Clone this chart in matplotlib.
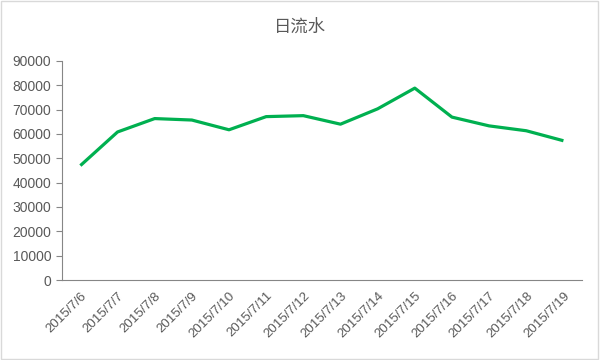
import matplotlib.pyplot as plt
from matplotlib.patches import Rectangle

# 数据
dates = ["2015/7/6", "2015/7/7", "2015/7/8", "2015/7/9", "2015/7/10",
         "2015/7/11", "2015/7/12", "2015/7/13", "2015/7/14", "2015/7/15",
         "2015/7/16", "2015/7/17", "2015/7/18", "2015/7/19"]
revenue = [47000, 60800, 66300, 65700, 61700, 67100, 67500,
           64000, 70300, 78800, 66900, 63300, 61300, 57200]
y_ticks = list(range(0, 90001, 10000))

plt.rcParams['font.family'] = ['Liberation Sans', 'Noto Sans CJK SC', 'DejaVu Sans']

fig = plt.figure(figsize=(6, 3.6), dpi=100)
ax = fig.add_axes([0.103, 0.222, 0.867, 0.609])

x = list(range(len(dates)))
ax.plot(x, revenue, color='#00B050', linewidth=2.3, solid_capstyle='butt')

ax.set_xlim(-0.5, len(dates) - 0.5)
ax.set_ylim(0, 90000)
ax.set_yticks(y_ticks)
ax.set_xticks(x)
ax.set_xticklabels(dates, rotation=45, ha='right', rotation_mode='anchor')

for side in ['top', 'right']:
    ax.spines[side].set_visible(False)
ax.spines['left'].set_color('#868686')
ax.spines['bottom'].set_color('#868686')
ax.tick_params(axis='y', colors='#868686', labelcolor='#595959', labelsize=10,
               length=4, width=0.8, direction='out')
ax.tick_params(axis='x', length=0, labelcolor='#595959', labelsize=9.5, pad=7)

fig.text(0.5, 0.925, "日流水", ha='center', va='center', fontsize=12.5,
         color='#595959', family=['Noto Sans CJK SC', 'DejaVu Sans'])

# 外框
fig.patches.append(Rectangle((0.002, 0.003), 0.994, 0.994, transform=fig.transFigure,
                             fill=False, edgecolor='#D9D9D9', linewidth=1))

fig.savefig("out.png", dpi=100)
